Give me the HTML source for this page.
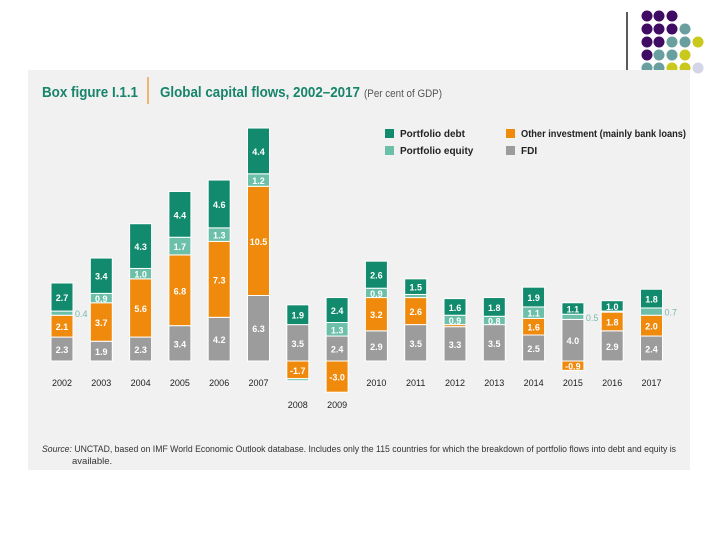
<!DOCTYPE html>
<html><head><meta charset="utf-8"><style>
body{margin:0;background:#fff;width:720px;height:540px;overflow:hidden;font-family:"Liberation Sans",sans-serif}
</style></head><body>
<svg width="720" height="540" viewBox="0 0 720 540" xmlns="http://www.w3.org/2000/svg" font-family="Liberation Sans, sans-serif">
<g id="deco"></g>
<line x1="627" y1="12" x2="627" y2="70" stroke="#222" stroke-width="1.5"/>
<rect x="28" y="70" width="662" height="400" fill="#f1f1f1"/>
<text x="42" y="97" font-size="15" font-weight="bold" fill="#17846b" textLength="96" lengthAdjust="spacingAndGlyphs">Box figure I.1.1</text>
<line x1="148" y1="77" x2="148" y2="104" stroke="#e8902a" stroke-width="1.2"/>
<text x="160" y="97" font-size="15" font-weight="bold" fill="#17846b" textLength="200" lengthAdjust="spacingAndGlyphs">Global capital flows, 2002–2017</text>
<text x="364" y="97" font-size="11" fill="#555" textLength="78" lengthAdjust="spacingAndGlyphs">(Per cent of GDP)</text>
<g>
<rect x="385" y="129" width="9" height="9" fill="#118a6d"/>
<text x="400" y="137" font-size="10" font-weight="bold" fill="#222">Portfolio debt</text>
<rect x="385" y="146" width="9" height="9" fill="#6cc0a9"/>
<text x="400" y="154" font-size="10" font-weight="bold" fill="#222">Portfolio equity</text>
<rect x="506" y="129" width="9" height="9" fill="#ef8a0c"/>
<text x="521" y="137" font-size="10" font-weight="bold" fill="#222" textLength="165" lengthAdjust="spacingAndGlyphs">Other investment (mainly bank loans)</text>
<rect x="506" y="146" width="9" height="9" fill="#9c9c9c"/>
<text x="521" y="154" font-size="10" font-weight="bold" fill="#222">FDI</text>
</g>
<g id="bars"></g>
<text x="42" y="452" font-size="9.5" fill="#333" textLength="634" lengthAdjust="spacingAndGlyphs"><tspan font-style="italic">Source:</tspan> UNCTAD, based on IMF World Economic Outlook database. Includes only the 115 countries for which the breakdown of portfolio flows into debt and equity is</text>
<text x="72" y="464" font-size="9.5" fill="#333">available.</text>
</svg>
<script>
const years=["2002","2003","2004","2005","2006","2007","2008","2009","2010","2011","2012","2013","2014","2015","2016","2017"];
const fdi=[2.3,1.9,2.3,3.4,4.2,6.3,3.5,2.4,2.9,3.5,3.3,3.5,2.5,4.0,2.9,2.4];
const other=[2.1,3.7,5.6,6.8,7.3,10.5,-1.7,-3.0,3.2,2.6,0.2,0,1.6,-0.9,1.8,2.0];
const equity=[0.4,0.9,1.0,1.7,1.3,1.2,-0.2,1.3,0.9,0.3,0.9,0.8,1.1,0.5,0.1,0.7];
const debt=[2.7,3.4,4.3,4.4,4.6,4.4,1.9,2.4,2.6,1.5,1.6,1.8,1.9,1.1,1.0,1.8];
const NS="http://www.w3.org/2000/svg";
const base=361, k=10.4, x0=62, dx=39.3, bw=22;
const xs=i=>x0+i*dx; const h=v=>v*k;
const g=document.getElementById('bars');
function mk(t,a){const e=document.createElementNS(NS,t);for(const n in a)e.setAttribute(n,a[n]);return e;}
const series=[["fdi",fdi,"#9c9c9c"],["other",other,"#ef8a0c"],["equity",equity,"#6cc0a9"],["debt",debt,"#118a6d"]];
years.forEach((yr,i)=>{
  let up=base, dn=base; const cx=xs(i);
  series.forEach(([nm,arr,col])=>{
    const v=arr[i]; if(v===0)return;
    let y0,y1;
    if(v>0){y1=up;y0=up-h(v);up=y0;}else{y0=dn;y1=dn+h(-v);dn=y1;}
    const r=mk('rect',{x:cx-bw/2,y:y0,width:bw,height:y1-y0,fill:col,stroke:'#fff','stroke-width':1});
    
    
    g.appendChild(r);
    const av=Math.abs(v); if(av<0.4)return;
    let t;
    if(y1-y0<8){t=mk('text',{x:cx+bw/2+2,y:(y0+y1)/2+4,'font-size':9,fill:'#7ab8ab'});}
    else{t=mk('text',{x:cx,y:(y0+y1)/2+4,'font-size':9,'font-weight':'bold',fill:'#fff','text-anchor':'middle'});}
    t.textContent=v.toFixed(1);
    
    
    g.appendChild(t);
  });
  const low=dn>base+14;
  const lt=mk('text',{x:cx,y:low?408:386,'font-size':9,fill:'#222','text-anchor':'middle'});
  lt.textContent=yr;
  
  
  g.appendChild(lt);
});
const dcols={P:"#3f0b63",T:"#6a9fa0",Y:"#c9c81c",L:"#d4d6e8"};
const rows=["PPP","PPPT","PPTTY","PTTY","TTYYL"];
const dxs=[647,659,672,685,698], dys=[16,29,42,55,68];
const dg=document.getElementById('deco');
rows.forEach((r,ri)=>[...r].forEach((c,ci)=>{
  const e=mk('circle',{cx:dxs[ci],cy:dys[ri],r:5.5,fill:dcols[c]});
  
  
  dg.appendChild(e);
}));
</script>
</body></html>
